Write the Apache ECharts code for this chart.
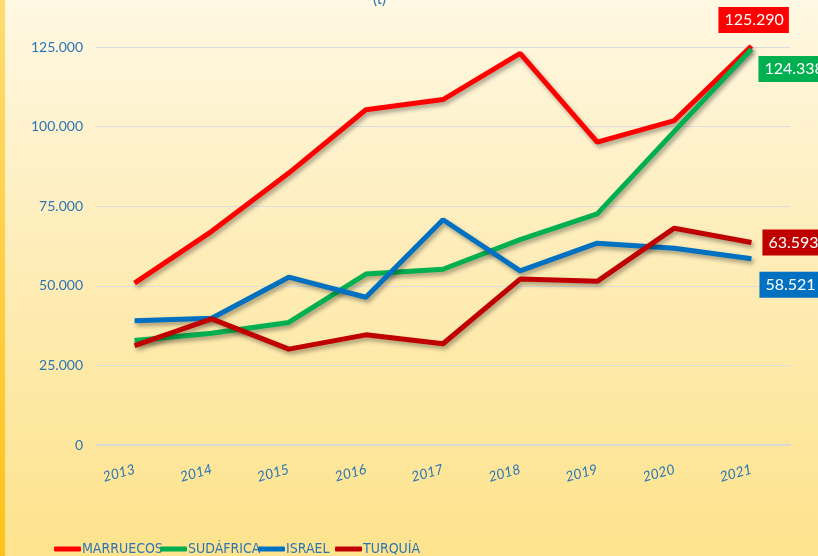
<!DOCTYPE html>
<html>
<head>
<meta charset="utf-8">
<script src="https://cdn.jsdelivr.net/npm/echarts@6/dist/echarts.min.js"></script>
<style>
  html, body { margin: 0; padding: 0; }
  #chart { width: 818px; height: 556px; }
</style>
</head>
<body>
<div id="chart"></div>
<script>
var years = ['2013', '2014', '2015', '2016', '2017', '2018', '2019', '2020', '2021'];
var marruecos = [50850, 67100, 85400, 105300, 108500, 123000, 95100, 101900, 125290];
var sudafrica = [32800, 35100, 38500, 53700, 55200, 64500, 72600, 98500, 124338];
var israel = [39000, 39800, 52700, 46400, 70750, 54700, 63400, 61800, 58521];
var turquia = [31200, 39600, 30100, 34600, 31800, 52100, 51400, 68100, 63593];
var names = ['MARRUECOS', 'SUDÁFRICA', 'ISRAEL', 'TURQUÍA'];
var yTicks = [0, 25000, 50000, 75000, 100000, 125000];

function fmt(v) {
    return String(v).replace(/\B(?=(\d{3})+(?!\d))/g, '.');
}

function makeSeries(name, values, color, offset) {
    return {
        name: name,
        type: 'line',
        data: values,
        symbol: 'none',
        color: color,
        lineStyle: {
            width: 5,
            color: color,
            shadowColor: 'rgba(0,0,0,0.35)',
            shadowBlur: 4,
            shadowOffsetX: 2,
            shadowOffsetY: 3
        },
        // boxed value at the last point
        endLabel: {
            show: true,
            distance: 5,
            offset: offset,
            formatter: function (p) { return fmt(p.value); },
            color: '#fff',
            fontFamily: 'Lato',
            fontSize: 16,
            backgroundColor: color,
            padding: [6, 5, 4, 6]
        },
        z: 3
    };
}

// one legend per item so each sits where the original has it
var legendLeft = [49, 155, 253, 330];
var legends = names.map(function (n, i) {
    return {
        data: [n],
        left: legendLeft[i],
        top: 537,
        icon: 'roundRect',
        itemWidth: 27,
        itemHeight: 5,
        textStyle: {
            color: '#2e75b6',
            fontSize: 14,
            fontFamily: '"Liberation Sans Narrow", "DejaVu Sans Condensed", sans-serif',
            padding: [0, 0, 0, -4]
        }
    };
});

var chartDom = document.getElementById('chart');
var myChart = echarts.init(chartDom);
var option;

option = {
    backgroundColor: new echarts.graphic.LinearGradient(0, 0, 0, 1, [
        {offset: 0, color: '#fff8e3'},
        {offset: 0.5, color: '#feecb5'},
        {offset: 1, color: '#fde38c'}
    ]),
    animation: false,
    title: {
        text: '(t)',
        left: 368,
        top: -13,
        textStyle: {color: '#2e75b6', fontSize: 15, fontWeight: 'normal', fontFamily: 'Lato'}
    },
    graphic: [{
        type: 'rect',
        shape: {x: 0, y: 0, width: 5, height: 556},
        style: {
            fill: new echarts.graphic.LinearGradient(0, 0, 0, 1, [
                {offset: 0, color: '#ffdc6e'},
                {offset: 1, color: '#ffc21a'}
            ])
        }
    }],
    grid: {left: 96, right: 28, top: 47, bottom: 111},
    legend: legends,
    xAxis: {
        type: 'category',
        data: years,
        boundaryGap: true,
        axisLine: {show: true, lineStyle: {color: '#d9d9d9', width: 2}},
        axisTick: {show: false},
        axisLabel: {
            color: '#2e75b6',
            fontSize: 14,
            fontFamily: 'Lato',
            fontStyle: 'italic',
            rotate: 15,
            margin: 24
        }
    },
    yAxis: {
        type: 'value',
        min: yTicks[0],
        max: yTicks[yTicks.length - 1],
        interval: yTicks[1] - yTicks[0],
        axisLine: {show: false},
        axisTick: {show: false},
        splitLine: {lineStyle: {color: '#dcdde0', width: 1}},
        axisLabel: {
            color: '#2e75b6',
            fontSize: 14,
            fontFamily: 'Lato',
            margin: 13,
            formatter: function (v) { return fmt(v); }
        }
    },
    series: [
        makeSeries(names[0], marruecos, '#ff0000', [-38, -26]),
        makeSeries(names[1], sudafrica, '#00b050', [2, 20]),
        makeSeries(names[2], israel, '#0070c0', [3, 26]),
        makeSeries(names[3], turquia, '#c00000', [6, 0])
    ]
};

option && myChart.setOption(option);
window.addEventListener('resize', function () {
    myChart.resize();
});
</script>
</body>
</html>
